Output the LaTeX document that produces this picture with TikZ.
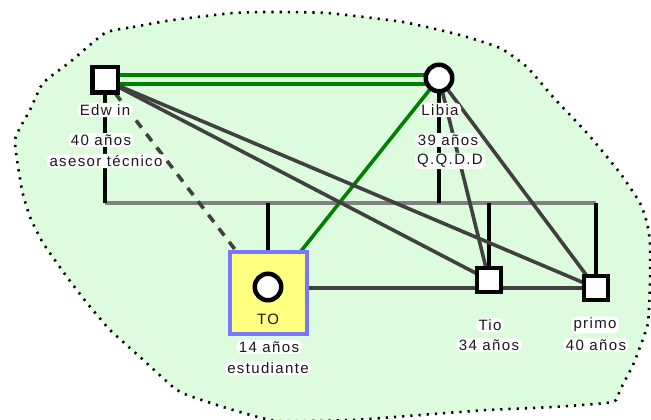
\documentclass[tikz,border=0pt]{standalone}
\usepackage{fontspec}
\setmainfont{Liberation Sans}[LetterSpace=9]
\pgfdeclarelayer{blob}
\pgfdeclarelayer{edges}
\pgfsetlayers{blob,edges,main}
\definecolor{blobgreen}{HTML}{DDFBDD}
\definecolor{tiegreen}{HTML}{008000}
\definecolor{kingray}{HTML}{404040}
\definecolor{sibgray}{HTML}{808080}
\definecolor{tofill}{HTML}{FFFF80}
\definecolor{toborder}{HTML}{7878FF}
\begin{document}
\begin{tikzpicture}[x=1pt,y=-1pt,
  malebox/.style={rectangle,draw=black,fill=white,line width=4.5pt,minimum size=25.5pt,inner sep=0pt},
  smallmale/.style={malebox,minimum size=24pt},
  femalecirc/.style={circle,draw=black,fill=white,line width=4.5pt,minimum size=26.5pt,inner sep=0pt},
  lbl/.style={fill=white,rounded corners=5pt,inner xsep=2.5pt,inner ysep=1.5pt,text=black!90,
    font=\fontsize{15}{17}\selectfont},
  plain/.style={inner sep=1pt,text=black!90,font=\fontsize{15}{17}\selectfont},
  kin/.style={draw=kingray,line width=3.6pt},
  loose/.style={kin,dash pattern=on 9pt off 8pt},
  desc/.style={draw=black,line width=4.5pt},
  sib/.style={draw=sibgray,line width=3.6pt},
  tie/.style={draw=tiegreen,line width=3.6pt},
  focus/.style={rectangle,draw=toborder,fill=tofill,line width=4pt,minimum width=77pt,minimum height=82pt,inner sep=0pt}
]
\useasboundingbox (0,0) rectangle (651,420);

% group outline
\begin{pgfonlayer}{blob}
\filldraw[fill=blobgreen,draw=black,line width=2.6pt,dash pattern=on 2.2pt off 6pt]
  plot[smooth cycle,tension=0.3] coordinates {
  (105,33) (133,27) (173,20) (233,13) (270,12) (327,13) (403,22) (460,35) (500,48)
  (527,67) (553,97) (587,133) (620,173) (640,203) (647,223) (650,243) (650,283)
  (648,323) (640,347) (633,365) (620,390) (613,402) (553,407) (487,410) (420,415)
  (353,420) (277,421) (233,410) (187,395) (173,387) (140,357) (110,330) (87,303)
  (67,277) (43,243) (30,217) (22,190) (15,140) (30,110) (43,83) (70,62)};
\end{pgfonlayer}

% persons
\node[malebox] (edwin) at (105,80) {};
\node[femalecirc] (libia) at (439,78) {};
\node[focus] (tobox) at (268,292.5) {};
\node[femalecirc] (tocirc) at (268,287) {};
\node[plain] (tolabel) at (268,319) {TO};
\node[smallmale] (tio) at (489,280) {};
\node[smallmale] (primo) at (596,288) {};

% sibship line
\coordinate (sl) at (105,203);
\coordinate (sr) at (596,203);

\begin{pgfonlayer}{edges}
\draw[sib] (sl) -- (sr);
\draw[desc] (edwin) -- (edwin |- sl);
\draw[desc] (libia) -- (libia |- sl);
\draw[desc] (tobox.north) -- (tobox.north |- sl);
\draw[desc] (tio) -- (tio |- sl);
\draw[desc] (primo) -- (primo |- sr);
\draw[tie] ([yshift=5pt]edwin.center) -- ([yshift=3pt]libia.center);
\draw[tie] ([yshift=-4pt]edwin.center) -- ([yshift=-6pt]libia.center);
\draw[tie] (libia.center) -- (tobox.center);
\draw[kin] (edwin.center) -- (tio.center);
\draw[kin] (edwin.center) -- (primo.center);
\draw[kin] (libia.center) -- (tio.center);
\draw[kin] (libia.center) -- (primo.center);
\draw[kin] (tobox.east |- primo.center) -- (primo.center);
\draw[loose] (edwin.center) -- (tobox.center);
\end{pgfonlayer}

% labels
\node[lbl] at (105,110) {Edw in};
\node[lbl] at (101,140) {40 años};
\node[lbl] at (106,161) {asesor técnico};
\node[lbl] at (440,110) {Libia};
\node[lbl] at (448,140) {39 años};
\node[lbl] at (450,161) {Q.Q.D.D};
\node[lbl] at (269,347) {14 años};
\node[lbl] at (268,368) {estudiante};
\node[lbl] at (490,325) {Tio};
\node[lbl] at (489,345) {34 años};
\node[lbl] at (595,325) {primo};
\node[lbl] at (596,345) {40 años};
\end{tikzpicture}
\end{document}
